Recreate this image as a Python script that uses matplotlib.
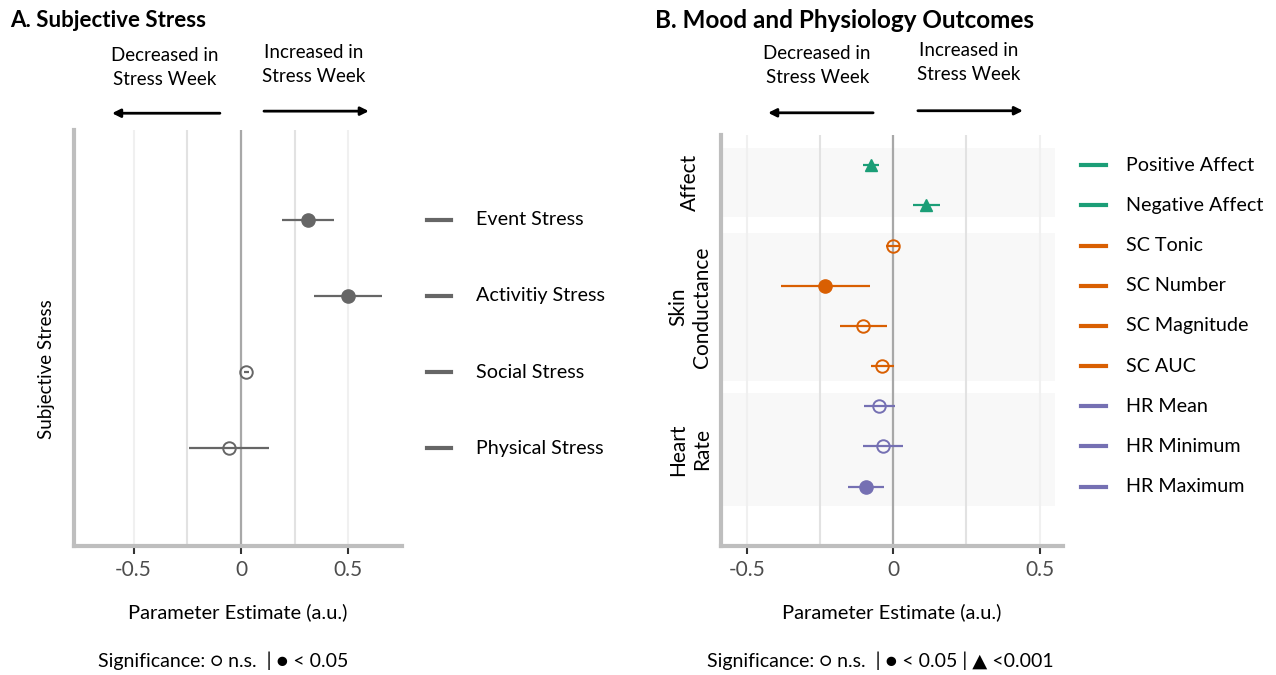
import numpy as np
import matplotlib
matplotlib.use("Agg")
import matplotlib.pyplot as plt
import matplotlib.transforms as mtransforms

plt.rcParams['font.family'] = ['Lato', 'DejaVu Sans']

# panel A data
stress_labels = ['Event Stress', 'Activitiy Stress', 'Social Stress', 'Physical Stress']
stress_est = [0.31, 0.496, 0.023, -0.057]
stress_lo = [0.19, 0.34, 0.012, -0.24]
stress_hi = [0.434, 0.654, 0.035, 0.13]
stress_sig = ['p05', 'p05', 'ns', 'ns']

# panel B data
outcome_labels = ['Positive Affect', 'Negative Affect', 'SC Tonic', 'SC Number', 'SC Magnitude',
                  'SC AUC', 'HR Mean', 'HR Minimum', 'HR Maximum']
outcome_group = ['Affect', 'Affect', 'SC', 'SC', 'SC', 'SC', 'HR', 'HR', 'HR']
outcome_est = [-0.077, 0.112, -0.002, -0.234, -0.103, -0.038, -0.049, -0.034, -0.092]
outcome_lo = [-0.105, 0.068, -0.025, -0.384, -0.182, -0.077, -0.101, -0.104, -0.154]
outcome_hi = [-0.048, 0.159, 0.02, -0.08, -0.022, 0.003, 0.005, 0.034, -0.031]
outcome_sig = ['p001', 'p001', 'ns', 'p05', 'ns', 'ns', 'ns', 'ns', 'p05']

group_names = ['Affect', 'SC', 'HR']
group_titles = ['Affect', 'Skin\nConductance', 'Heart\nRate']
group_colors = ['#1B9E77', '#D95F02', '#7570B3']
group_band_lo = [7.72, 3.63, 0.52]
group_band_hi = [9.42, 7.31, 3.33]

gray = '#666666'
spine_col = '#BEBEBE'

fig = plt.figure(figsize=(12.76, 6.75), dpi=100)
axA = fig.add_axes([0.058, 0.191, 0.257, 0.616])
axB = fig.add_axes([0.5648, 0.191, 0.2683, 0.609])


def style_axes(ax):
    for s in ['top', 'right']:
        ax.spines[s].set_visible(False)
    for s in ['left', 'bottom']:
        ax.spines[s].set_linewidth(3)
        ax.spines[s].set_color(spine_col)
    ax.set_xticks([-0.5, 0, 0.5])
    ax.set_xticklabels(['-0.5', '0', '0.5'])
    ax.set_xticks([-0.25, 0.25], minor=True)
    ax.grid(axis='x', which='major', color='#F0F0F0', lw=1.5, zorder=0)
    ax.grid(axis='x', which='minor', color='#E2E2E2', lw=1.5, zorder=0)
    ax.axvline(0, color='#A8A8A8', lw=1.6, zorder=1)
    ax.set_yticks([])
    ax.tick_params(axis='x', which='major', length=6, width=1.5, color='#333333',
                   labelsize=15, labelcolor='#4D4D4D', pad=4)
    ax.tick_params(axis='x', which='minor', length=0)
    ax.set_xlabel('Parameter Estimate (a.u.)', fontsize=14.5, labelpad=17)
    ax.set_axisbelow(True)


def draw_point(ax, y, est, lo, hi, sig, color):
    ax.plot([lo, hi], [y, y], color=color, lw=1.6, zorder=3, solid_capstyle='butt')
    if sig == 'ns':
        ax.plot(est, y, marker='o', ms=9, mfc='none', mec=color, mew=1.4, zorder=4)
    elif sig == 'p05':
        ax.plot(est, y, marker='o', ms=9.5, mfc=color, mec=color, zorder=4)
    else:
        ax.plot(est, y, marker='^', ms=9, mfc=color, mec=color, zorder=4)


def direction_arrows(ax, left_span, right_span, text_left_x, text_right_x, y_arrow, y_text):
    ax.annotate('', xy=(left_span[1], y_arrow), xytext=(left_span[0], y_arrow),
                xycoords=('data', 'axes fraction'), textcoords=('data', 'axes fraction'),
                arrowprops=dict(arrowstyle='-|>', color='black', lw=2, mutation_scale=12,
                                shrinkA=0, shrinkB=0), annotation_clip=False)
    ax.annotate('', xy=(right_span[1], y_arrow + 0.005), xytext=(right_span[0], y_arrow + 0.005),
                xycoords=('data', 'axes fraction'), textcoords=('data', 'axes fraction'),
                arrowprops=dict(arrowstyle='-|>', color='black', lw=2, mutation_scale=12,
                                shrinkA=0, shrinkB=0), annotation_clip=False)
    ax.text(text_left_x, y_text, 'Decreased in\nStress Week', transform=ax.get_xaxis_transform(),
            ha='center', va='center', fontsize=13.5, linespacing=1.5)
    ax.text(text_right_x, y_text + 0.008, 'Increased in\nStress Week', transform=ax.get_xaxis_transform(),
            ha='center', va='center', fontsize=13.5, linespacing=1.5)


# ---- panel A
style_axes(axA)
nA = len(stress_labels)
yA = np.arange(nA, 0, -1)
for i in range(nA):
    draw_point(axA, yA[i], stress_est[i], stress_lo[i], stress_hi[i], stress_sig[i], gray)
axA.set_xlim(-0.777, 0.749)
axA.set_ylim(-0.28, 5.17)
axA.set_ylabel('Subjective Stress', fontsize=13.5)
axA.yaxis.set_label_coords(-0.088 + 0.03, 0.425)
tA = mtransforms.blended_transform_factory(axA.transAxes, axA.transData)
for i in range(nA):
    axA.plot([1.076, 1.149], [yA[i], yA[i]], color=gray, lw=3, transform=tA, clip_on=False)
    axA.text(1.226, yA[i], stress_labels[i], transform=tA, va='center', ha='left', fontsize=14.2)
direction_arrows(axA, (-0.098, -0.6), (0.107, 0.595), -0.353, 0.34, 1.041, 1.151)
fig.text(0.008, 0.97, 'A. Subjective Stress', fontsize=16, fontweight='bold', va='center', ha='left')
fig.text(0.175, 0.021, 'Significance: \u25CB n.s.  | \u25CF < 0.05', fontsize=14, ha='center', va='center')

# ---- panel B
style_axes(axB)
nB = len(outcome_labels)
yB = np.arange(nB, 0, -1)
tB = mtransforms.blended_transform_factory(axB.transAxes, axB.transData)
for g in range(len(group_names)):
    axB.axhspan(group_band_lo[g], group_band_hi[g], xmin=0, xmax=0.977, color='#F8F8F8', zorder=0.5, lw=0)
    axB.text(-0.09, (group_band_lo[g] + group_band_hi[g]) / 2, group_titles[g], transform=tB,
             rotation=90, ha='center', va='center', fontsize=15, linespacing=1.25)
for i in range(nB):
    col = group_colors[group_names.index(outcome_group[i])]
    draw_point(axB, yB[i], outcome_est[i], outcome_lo[i], outcome_hi[i], outcome_sig[i], col)
    axB.plot([1.053, 1.126], [yB[i], yB[i]], color=col, lw=3, transform=tB, clip_on=False)
    axB.text(1.184, yB[i], outcome_labels[i], transform=tB, va='center', ha='left', fontsize=14.2)
axB.set_xlim(-0.59, 0.58)
axB.set_ylim(-0.48, 9.75)
direction_arrows(axB, (-0.069, -0.428), (0.084, 0.443), -0.26, 0.256, 1.054, 1.168)
fig.text(0.513, 0.97, 'B. Mood and Physiology Outcomes', fontsize=17.5, fontweight='bold', va='center', ha='left')
fig.text(0.69, 0.021, 'Significance: \u25CB n.s.  | \u25CF < 0.05 | \u25B2 <0.001', fontsize=14,
         ha='center', va='center')

fig.savefig('out.png', dpi=100)
